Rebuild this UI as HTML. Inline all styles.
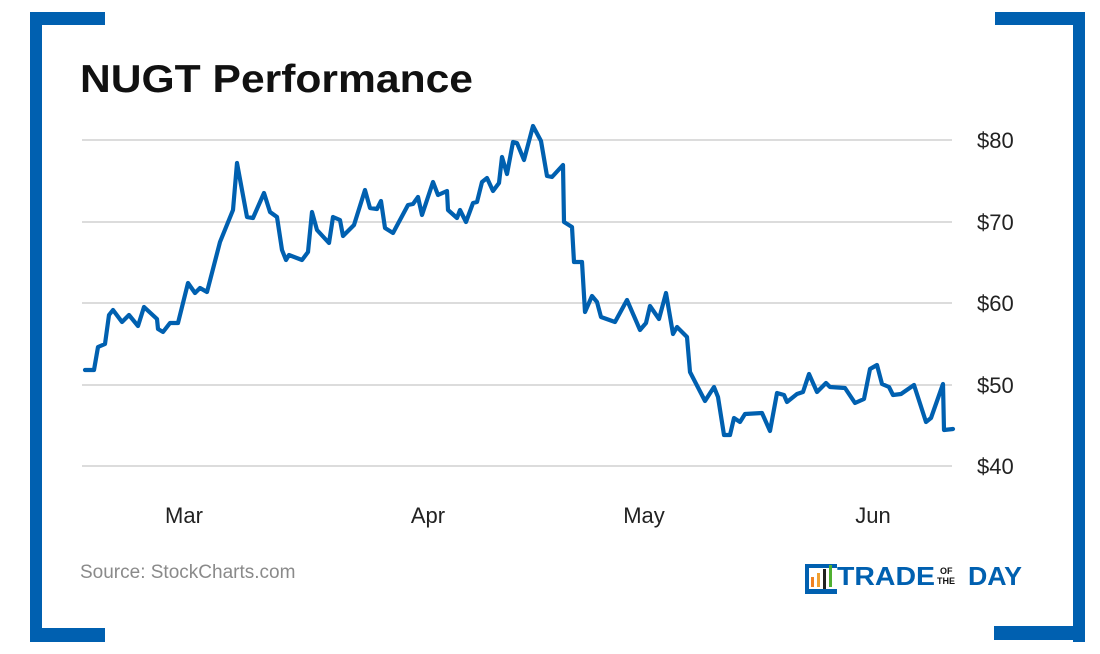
<!DOCTYPE html>
<html><head><meta charset="utf-8"><style>
html,body{margin:0;padding:0;background:#fff;}
body{width:1100px;height:654px;position:relative;overflow:hidden;font-family:"Liberation Sans",sans-serif;}
</style></head><body>
<svg width="1100" height="654" viewBox="0 0 1100 654" xmlns="http://www.w3.org/2000/svg" style="position:absolute;left:0;top:0">
<g fill="#0060b0">
<rect x="30" y="12" width="12" height="630"/>
<rect x="30" y="12" width="75" height="13"/>
<rect x="30" y="628" width="75" height="14"/>
<rect x="1073" y="12" width="12" height="630"/>
<rect x="995" y="12" width="90" height="13"/>
<rect x="994" y="626" width="91" height="14"/>
</g>
<text x="80" y="92" font-family="Liberation Sans,sans-serif" font-weight="bold" font-size="39" fill="#111" textLength="393" lengthAdjust="spacingAndGlyphs">NUGT Performance</text>
<g stroke="#c8c8c8" stroke-width="1.3">
<line x1="82" y1="140" x2="952" y2="140"/>
<line x1="82" y1="222" x2="952" y2="222"/>
<line x1="82" y1="303" x2="952" y2="303"/>
<line x1="82" y1="385" x2="952" y2="385"/>
<line x1="82" y1="466" x2="952" y2="466"/>
</g>
<g font-family="Liberation Sans,sans-serif" font-size="22" fill="#222">
<text x="977" y="148">$80</text>
<text x="977" y="230">$70</text>
<text x="977" y="311">$60</text>
<text x="977" y="393">$50</text>
<text x="977" y="474">$40</text>
<text x="184" y="523" text-anchor="middle">Mar</text>
<text x="428" y="523" text-anchor="middle">Apr</text>
<text x="644" y="523" text-anchor="middle">May</text>
<text x="873" y="523" text-anchor="middle">Jun</text>
</g>
<polyline fill="none" stroke="#0060b0" stroke-width="4.2" stroke-linejoin="round" stroke-linecap="round" points="85,370 94,370 98,347 105,344 109,315 113,310 122,322 129,315 138,326 144,307 157,319 158,329 163,332 170,323 178,323 188,283 195,293 200,288 207,292 220,242 233,210 237,163 247,217 253,218 264,193 270,212 277,217 282,250 286,260 289,255 302,260 308,252 312,212 317,230 329,243 333,217 340,220 343,236 354,225 365,190 370,208 377,209 381,201 385,228 393,233 408,205 413,204 418,197 422,215 433,182 438,195 447,191 448,210 457,218 460,210 466,222 473,203 477,202 482,182 487,178 493,191 499,183 502,157 507,174 513,142 517,143 524,160 533,126 541,141 547,176 552,177 563,165 564,222 572,227 574,262 582,262 585,312 592,296 597,302 601,317 615,322 627,300 640,330 646,323 650,306 659,319 666,293 673,334 677,327 683,333 687,337 690,372 705,401 714,387 718,397 724,435 730,435 734,418 740,422 745,414 762,413 770,431 777,393 784,395 787,402 797,394 803,392 809,374 817,392 826,383 830,387 845,388 855,403 864,399 870,369 877,365 882,384 889,387 893,395 901,394 914,385 926,422 931,418 943,384 944,430 953,429"/>
<text x="80" y="578" font-family="Liberation Sans,sans-serif" font-size="19" fill="#8a8a8a">Source: StockCharts.com</text>
<g>
<path d="M805 564 h32 v4 h-28 v21 h28 v5 h-32 z" fill="#0060b0"/>
<rect x="811" y="577" width="3" height="10" fill="#f08020"/>
<rect x="817" y="573" width="3" height="14" fill="#f0a030"/>
<rect x="823" y="569" width="3" height="20" fill="#222"/>
<rect x="829" y="565" width="3" height="22" fill="#50b030"/>
<text x="837" y="585" font-family="Liberation Sans,sans-serif" font-weight="bold" font-size="26" fill="#0060b0" textLength="98" lengthAdjust="spacingAndGlyphs">TRADE</text>
<text x="940" y="574" font-family="Liberation Sans,sans-serif" font-weight="bold" font-size="9" fill="#111">OF</text>
<text x="937" y="584" font-family="Liberation Sans,sans-serif" font-weight="bold" font-size="9" fill="#111">THE</text>
<text x="968" y="585" font-family="Liberation Sans,sans-serif" font-weight="bold" font-size="26" fill="#0060b0" textLength="54" lengthAdjust="spacingAndGlyphs">DAY</text>
</g>
</svg>
</body></html>
